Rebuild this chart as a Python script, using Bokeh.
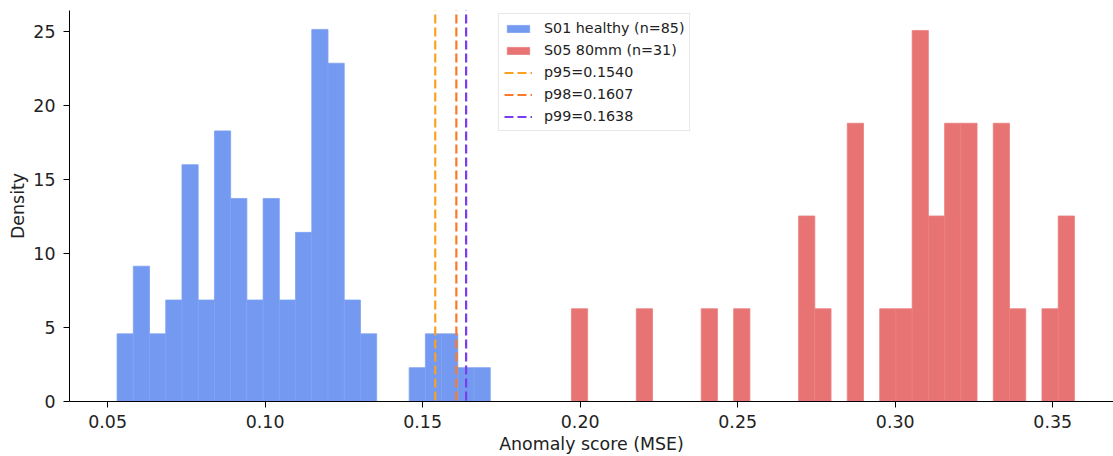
import numpy as np
from bokeh.plotting import figure
from bokeh.models import ColumnDataSource, Legend, LegendItem, FixedTicker
from bokeh.embed import file_html
from bokeh.resources import INLINE

# ---- data ----
BIN_LO = 0.0530
BIN_HI = 0.3569
N_BINS = 59

healthy_label = "S01 healthy (n=85)"
healthy_first_bin = 0
healthy_counts = [2, 4, 2, 3, 7, 3, 8, 6, 3, 6, 3, 5, 11, 10, 3, 2, 0, 0, 1, 2, 2, 1, 1]

fault_label = "S05 80mm (n=31)"
fault_first_bin = 28
fault_counts = [1, 0, 0, 0, 1, 0, 0, 0, 1, 0, 1, 0, 0, 0, 2, 1, 0, 3, 0, 1, 1, 4, 2, 3, 3, 0, 3, 1, 0, 1, 2]

threshold_names = ["p95", "p98", "p99"]
threshold_values = [0.1540, 0.1607, 0.1638]
threshold_colors = ["#FBA020", "#FB7A28", "#7B3CEE"]

x_ticks = [0.05, 0.10, 0.15, 0.20, 0.25, 0.30, 0.35]
y_ticks = [0, 5, 10, 15, 20, 25]

FONT = "DejaVu Sans"

edges = np.linspace(BIN_LO, BIN_HI, N_BINS + 1)
width = edges[1] - edges[0]


def hist_source(first, counts):
    counts = np.asarray(counts, dtype=float)
    n = counts.sum()
    idx = np.arange(first, first + len(counts))
    keep = counts > 0
    return ColumnDataSource(dict(
        left=edges[idx][keep],
        right=edges[idx + 1][keep],
        top=(counts / (n * width))[keep],
        bottom=np.zeros(keep.sum()),
    ))


p = figure(width=1113, height=456, output_backend="svg", toolbar_location=None,
           x_range=(0.0379, 0.3693), y_range=(0, 26.4),
           min_border_left=69, min_border_right=0, min_border_top=10, min_border_bottom=55)

p.outline_line_color = None
p.xgrid.visible = False
p.ygrid.visible = False
p.background_fill_color = "white"
p.border_fill_color = "white"

r_h = p.quad(left="left", right="right", top="top", bottom="bottom",
             source=hist_source(healthy_first_bin, healthy_counts),
             fill_color="#7399F0", line_color="#7FA2F1", line_width=0.8)
r_f = p.quad(left="left", right="right", top="top", bottom="bottom",
             source=hist_source(fault_first_bin, fault_counts),
             fill_color="#E87373", line_color="#EA7F7F", line_width=0.8)

items = [LegendItem(label=healthy_label, renderers=[r_h]),
         LegendItem(label=fault_label, renderers=[r_f])]
for name, val, col in zip(threshold_names, threshold_values, threshold_colors):
    r = p.line(x=[val, val], y=[-100, 100], line_color=col, line_width=2.2, line_dash="9 4")
    items.append(LegendItem(label=f"{name}={val:.4f}", renderers=[r]))

legend = Legend(items=items, location=(429, 270))
legend.label_text_font = FONT
legend.label_text_font_size = "14.3px"
legend.label_text_color = "#222222"
legend.label_height = 18
legend.glyph_height = 9
legend.glyph_width = 28
legend.label_standoff = 12
legend.spacing = 4
legend.padding = 5
legend.margin = 0
legend.border_line_color = "#d0d0d0"
legend.border_line_width = 1
legend.background_fill_alpha = 0.85
p.add_layout(legend, "center")

for ax in (p.xaxis, p.yaxis):
    ax.axis_line_color = "black"
    ax.axis_line_width = 1
    ax.major_tick_line_color = "black"
    ax.major_tick_out = 6
    ax.major_tick_in = 0
    ax.minor_tick_line_color = None
    ax.major_label_text_font = FONT
    ax.major_label_text_font_size = "17.4px"
    ax.major_label_text_color = "#222222"
    ax.axis_label_text_font = FONT
    ax.axis_label_text_font_size = "17.4px"
    ax.axis_label_text_font_style = "normal"
    ax.axis_label_text_color = "#222222"

p.xaxis.ticker = FixedTicker(ticks=x_ticks)
p.xaxis.major_label_overrides = {t: f"{t:.2f}" for t in x_ticks}
p.yaxis.ticker = FixedTicker(ticks=y_ticks)
p.xaxis.axis_label = "Anomaly score (MSE)"
p.yaxis.axis_label = "Density"
p.xaxis.major_label_standoff = 7
p.yaxis.major_label_standoff = 8
p.xaxis.axis_label_standoff = 3
p.yaxis.axis_label_standoff = 2

open("out.html", "w").write(file_html(p, INLINE))
